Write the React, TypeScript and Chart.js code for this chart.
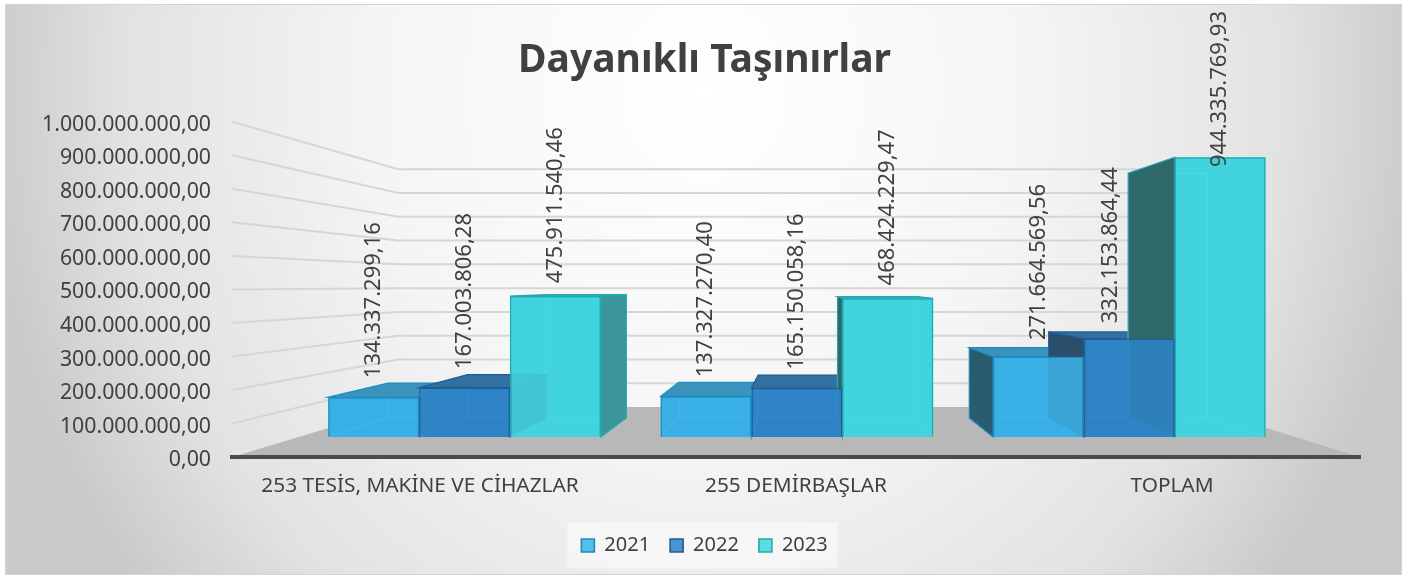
import React, { useEffect, useRef } from "react";
import { Chart, registerables } from "chart.js";

Chart.register(...registerables);

// ---------- data ----------
const TITLE = "Dayanıklı Taşınırlar";
const categories = ["253 TESİS, MAKİNE VE CİHAZLAR", "255 DEMİRBAŞLAR", "TOPLAM"];
const seriesNames = ["2021", "2022", "2023"];
const values2021 = [134337299.16, 137327270.4, 271664569.56];
const values2022 = [167003806.28, 165150058.16, 332153864.44];
const values2023 = [475911540.46, 468424229.47, 944335769.93];
const yMin = 0;
const yMax = 1000000000;
const yStep = 100000000;

// ---------- styles ----------
const FONT = "Noto Sans";
const TEXT = "#404040";
const FRONT = ["rgba(59,178,230,0.86)", "rgba(46,132,200,0.86)", "rgba(66,214,224,0.86)"];
const BASE = ["#2ea6da", "#2a78b8", "#38c8d2"];
const EDGE = ["#1f8cc0", "#1f5e96", "#22a9b0"];
const TOP = ["#3a93bd", "#33709f", "#46b9bd"];
const SIDE_LEFT = ["#285c6e", "#2b4f6a", "#2e6868"];
const SIDE_RIGHT = ["#2f86ad", "#2a6090", "#3a9698"];

// simple perspective: vanishing point and depth scales
const EYE_VALUE = 513000000;
const VP_X_FRAC = 0.507;
const S_FRONT = 0.884;
const S_BACK = 0.773;
const S_WALL = 0.709;

function fmtTR(v: number): string {
  const neg = v < 0;
  const [ip, dp] = Math.abs(v).toFixed(2).split(".");
  const grouped = ip.replace(/\B(?=(\d{3})+(?!\d))/g, ".");
  return (neg ? "-" : "") + grouped + "," + dp;
}

function vp(chart: any) {
  const ca = chart.chartArea;
  const vx = ca.left + (ca.right - ca.left) * VP_X_FRAC;
  const vy = chart.scales.y.getPixelForValue(EYE_VALUE);
  return { vx, vy };
}

function poly(ctx: CanvasRenderingContext2D, pts: number[][]) {
  ctx.beginPath();
  ctx.moveTo(pts[0][0], pts[0][1]);
  for (let i = 1; i < pts.length; i++) ctx.lineTo(pts[i][0], pts[i][1]);
  ctx.closePath();
}

function getBoxes(chart: any) {
  const boxes: any[] = [];
  chart.data.datasets.forEach((_ds: any, di: number) => {
    const meta = chart.getDatasetMeta(di);
    meta.data.forEach((el: any, i: number) => {
      const p = el.getProps(["x", "y", "base", "width"], true);
      boxes.push({ di, i, x: p.x, L: p.x - p.width / 2, R: p.x + p.width / 2, T: p.y, Bs: p.base });
    });
  });
  return boxes;
}

const scenePlugin = {
  id: "scene3d",
  beforeDraw(chart: any) {
    const { ctx, chartArea: ca, scales } = chart;
    const y = scales.y;
    const { vx, vy } = vp(chart);
    const P = (s: number, px: number, py: number) => [vx + (px - vx) * s, vy + (py - vy) * s];

    // legend background
    const lg = chart.legend;
    if (lg && lg.legendHitBoxes && lg.legendHitBoxes.length) {
      const hb = lg.legendHitBoxes;
      const l = hb[0].left - 14;
      const last = hb[hb.length - 1];
      const r = last.left + last.width + 10;
      const cy = hb[0].top + hb[0].height / 2;
      ctx.save();
      ctx.fillStyle = "rgba(248,248,248,0.8)";
      ctx.fillRect(l, cy - 23, r - l, 46);
      ctx.restore();
    }

    ctx.save();
    // floor
    const y0 = y.getPixelForValue(0);
    poly(ctx, [P(1, ca.left, y0), P(1, ca.right, y0), P(S_WALL, ca.right, y0), P(S_WALL, ca.left, y0)]);
    ctx.fillStyle = "#b8b8b8";
    ctx.fill();

    // gridlines: side wall + back wall
    ctx.strokeStyle = "#d6d6d6";
    ctx.lineWidth = 2;
    y.ticks.forEach((t: any) => {
      if (t.value === 0) return;
      const py = y.getPixelForValue(t.value);
      const a = P(S_WALL, ca.left, py);
      const b = P(S_WALL, ca.right, py);
      ctx.beginPath();
      ctx.moveTo(ca.left, py);
      ctx.lineTo(a[0], a[1]);
      ctx.lineTo(b[0], b[1]);
      ctx.stroke();
    });
    ctx.restore();
  },
  beforeDatasetsDraw(chart: any) {
    const { ctx } = chart;
    const { vx, vy } = vp(chart);
    const P = (s: number, px: number, py: number) => [vx + (px - vx) * s, vy + (py - vy) * s];
    const F = S_FRONT;
    const B = S_BACK;
    const boxes = getBoxes(chart);
    ctx.save();
    // pass 1: opaque silhouette of each box
    boxes.forEach((b) => {
      const { L, R, T, Bs, di } = b;
      ctx.fillStyle = BASE[di];
      const quads = [
        [P(B, L, T), P(B, R, T), P(B, R, Bs), P(B, L, Bs)],
        [P(F, L, Bs), P(F, R, Bs), P(B, R, Bs), P(B, L, Bs)],
        [P(F, L, T), P(F, R, T), P(B, R, T), P(B, L, T)],
        [P(F, L, T), P(B, L, T), P(B, L, Bs), P(F, L, Bs)],
        [P(F, R, T), P(B, R, T), P(B, R, Bs), P(F, R, Bs)],
      ];
      quads.forEach((q) => {
        poly(ctx, q);
        ctx.fill();
      });
    });
    // pass 2: visible faces & inner edges
    boxes.forEach((b) => {
      const { L, R, T, Bs, di } = b;
      ctx.lineWidth = 1.2;
      ctx.strokeStyle = "rgba(255,255,255,0.3)";
      poly(ctx, [P(B, L, T), P(B, R, T), P(B, R, Bs), P(B, L, Bs)]);
      ctx.stroke();
      ctx.beginPath();
      const c1 = P(F, L, Bs), c2 = P(B, L, Bs), c3 = P(F, R, Bs), c4 = P(B, R, Bs);
      ctx.moveTo(c1[0], c1[1]); ctx.lineTo(c2[0], c2[1]);
      ctx.moveTo(c3[0], c3[1]); ctx.lineTo(c4[0], c4[1]);
      ctx.stroke();
      ctx.strokeStyle = EDGE[di];
      if (R < vx) {
        poly(ctx, [P(F, R, T), P(B, R, T), P(B, R, Bs), P(F, R, Bs)]);
        ctx.fillStyle = SIDE_RIGHT[di];
        ctx.fill();
        ctx.stroke();
      }
      if (L > vx) {
        poly(ctx, [P(F, L, T), P(B, L, T), P(B, L, Bs), P(F, L, Bs)]);
        ctx.fillStyle = SIDE_LEFT[di];
        ctx.fill();
        ctx.stroke();
      }
      if (T > vy) {
        poly(ctx, [P(F, L, T), P(F, R, T), P(B, R, T), P(B, L, T)]);
        ctx.fillStyle = TOP[di];
        ctx.fill();
        ctx.stroke();
      }
    });
    ctx.restore();

    // front faces are drawn by Chart.js itself, projected onto the front plane
    ctx.save();
    ctx.translate(vx, vy);
    ctx.scale(F, F);
    ctx.translate(-vx, -vy);
  },
  afterDatasetsDraw(chart: any) {
    const { ctx } = chart;
    ctx.restore();
    const { vx, vy } = vp(chart);
    const P = (s: number, px: number, py: number) => [vx + (px - vx) * s, vy + (py - vy) * s];
    const mid = (S_FRONT + S_BACK) / 2;
    const boxes = getBoxes(chart);
    ctx.save();
    ctx.font = `22px "${FONT}"`;
    ctx.fillStyle = TEXT;
    ctx.textAlign = "left";
    ctx.textBaseline = "middle";
    boxes.forEach((b) => {
      const ds = chart.data.datasets[b.di];
      const txt = fmtTR(ds.data[b.i]);
      const w = ctx.measureText(txt).width;
      let x = P(S_FRONT, b.x, b.T)[0];
      let yb = P(mid, b.x, b.T)[1] - 12;
      if (yb - w < 11) yb = 11 + w;
      // keep label clear of a taller neighbouring bar's visible side face
      const next = boxes.find((o) => o.i === b.i && o.di === b.di + 1);
      if (next && next.L > vx) {
        const nTop = P(S_BACK, next.L, next.T)[1];
        const nLeft = P(S_BACK, next.L, next.T)[0];
        if (nTop < yb - 20 && x + 8 > nLeft - 9) x = nLeft - 9 - 8;
      }
      ctx.save();
      ctx.translate(x, yb);
      ctx.rotate(-Math.PI / 2);
      ctx.fillText(txt, 0, 0);
      ctx.restore();
    });
    ctx.restore();
  },
};

export default function App() {
  const ref = useRef<HTMLCanvasElement | null>(null);

  useEffect(() => {
    document.body.style.margin = "0";
    if (!ref.current) return;
    Chart.defaults.font.family = FONT;
    const seriesValues = [values2021, values2022, values2023];
    const chart = new Chart(ref.current, {
      type: "bar",
      data: {
        labels: categories,
        datasets: seriesNames.map((name, i) => ({
          label: name,
          data: seriesValues[i],
          backgroundColor: FRONT[i],
          borderColor: EDGE[i],
          borderWidth: 1.6,
          categoryPercentage: 0.82,
          barPercentage: 1,
          clip: false as any,
          xAxisID: "x",
          yAxisID: "y",
        })),
      },
      options: {
        responsive: false,
        animation: false,
        devicePixelRatio: 1,
        events: [],
        layout: { padding: { top: 0, left: 0, right: 0, bottom: 12.5 } },
        plugins: {
          title: {
            display: true,
            text: TITLE,
            color: TEXT,
            font: { family: FONT, size: 39, weight: "bold" },
            padding: { top: 37, bottom: 38 },
          },
          legend: {
            position: "bottom",
            labels: {
              boxWidth: 13,
              boxHeight: 13,
              padding: 20,
              color: TEXT,
              font: { family: FONT, size: 20 },
            },
          },
          tooltip: { enabled: false },
        },
        scales: {
          x: {
            type: "category",
            grid: { display: false, drawTicks: false },
            border: { display: true, color: "#4a4a4a", width: 4 },
            ticks: {
              color: TEXT,
              font: { family: FONT, size: 20.8 },
              padding: 17,
              maxRotation: 0,
              autoSkip: false,
            },
            afterFit: (s: any) => {
              s.height = 58.5;
            },
          },
          y: {
            type: "linear",
            min: yMin,
            max: yMax,
            grid: { display: false, drawTicks: false },
            border: { display: false },
            ticks: {
              stepSize: yStep,
              color: TEXT,
              font: { family: FONT, size: 21.3 },
              padding: 21,
              labelOffset: 3,
              callback: (v: any) => fmtTR(Number(v)),
            },
            afterFit: (s: any) => {
              s.width = 232;
            },
          },
          yR: {
            type: "linear",
            position: "right",
            min: 0,
            max: 1,
            grid: { display: false, drawTicks: false },
            border: { display: false },
            ticks: { display: false },
            afterFit: (s: any) => {
              s.width = 49;
            },
          },
        },
      } as any,
      plugins: [scenePlugin],
    });
    return () => chart.destroy();
  }, []);

  return (
    <div
      style={{
        position: "fixed",
        left: 0,
        top: 0,
        width: 1409,
        height: 578,
        background: "#ffffff",
        overflow: "hidden",
      }}
    >
      <div
        style={{
          position: "absolute",
          left: 5,
          top: 4,
          width: 1397,
          height: 571,
          boxSizing: "border-box",
          border: "1px solid #d4d4d4",
          background:
            "radial-gradient(ellipse 52% 140% at 50% 15%, #ffffff 0%, #f5f5f5 45%, #e2e2e2 80%, #c9c9c9 100%)",
        }}
      />
      <canvas
        ref={ref}
        width={1409}
        height={578}
        style={{ position: "absolute", left: 0, top: 0, width: 1409, height: 578 }}
      />
    </div>
  );
}
